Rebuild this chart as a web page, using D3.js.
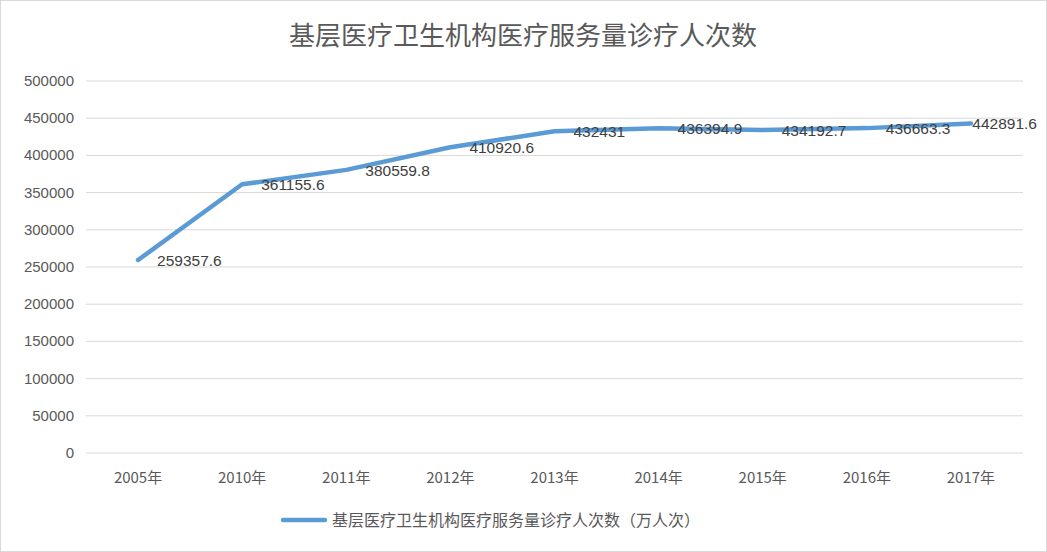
<!DOCTYPE html>
<html><head><meta charset="utf-8">
<script src="https://cdn.jsdelivr.net/npm/d3@7"></script>
<style>body{margin:0;background:#fff}svg{font-family:"Noto Sans CJK SC","Liberation Sans",sans-serif}</style>
</head><body><svg id="c" width="1047" height="552"></svg>
<script>
const categories=["2005年","2010年","2011年","2012年","2013年","2014年","2015年","2016年","2017年"];
const values=[259357.6,361155.6,380559.8,410920.6,432431,436394.9,434192.7,436663.3,442891.6];
const labels=["259357.6","361155.6","380559.8","410920.6","432431","436394.9","434192.7","436663.3","442891.6"];
const yTicks=[0,50000,100000,150000,200000,250000,300000,350000,400000,450000,500000];
const svg=d3.select("#c");
svg.append("rect").attr("x",0.5).attr("y",0.5).attr("width",1046).attr("height",551).attr("fill","#fff").attr("stroke","#d9d9d9");
const x=d3.scaleBand().domain(categories).range([86,1023]);
const y=d3.scaleLinear().domain([0,500000]).range([453,81]);
const col="#595959";
svg.append("text").attr("x",523).attr("y",45).attr("text-anchor","middle").attr("font-size",26).attr("fill",col).text("基层医疗卫生机构医疗服务量诊疗人次数");
yTicks.forEach(t=>{
 svg.append("line").attr("x1",86).attr("x2",1023).attr("y1",y(t)).attr("y2",y(t)).attr("stroke","#d9d9d9");
 svg.append("text").attr("x",74).attr("y",y(t)+5).attr("text-anchor","end").attr("font-size",15).attr("fill",col).attr("font-family","Liberation Sans,sans-serif").text(t);
});
categories.forEach(c=>svg.append("text").attr("x",x(c)+x.bandwidth()/2).attr("y",483).attr("text-anchor","middle").attr("font-size",15).attr("fill",col).text(c));
const line=d3.line().x((d,i)=>x(categories[i])+x.bandwidth()/2).y(d=>y(d));
svg.append("path").datum(values).attr("d",line).attr("fill","none").attr("stroke","#5b9bd5").attr("stroke-width",4.5).attr("stroke-linejoin","round").attr("stroke-linecap","round");
values.forEach((v,i)=>{
 const last=i===values.length-1;
 const cx=x(categories[i])+x.bandwidth()/2;
 svg.append("text").attr("x",last?1037:cx+19).attr("y",y(v)+6).attr("text-anchor",last?"end":"start")
  .attr("font-size",15.5).attr("fill","#404040").attr("font-family","Liberation Sans,sans-serif").text(labels[i]);
});
svg.append("line").attr("x1",283).attr("x2",325).attr("y1",520).attr("y2",520).attr("stroke","#5b9bd5").attr("stroke-width",4.5).attr("stroke-linecap","round");
svg.append("text").attr("x",332).attr("y",526).attr("font-size",16).attr("fill",col).text("基层医疗卫生机构医疗服务量诊疗人次数（万人次）");
</script></body></html>
